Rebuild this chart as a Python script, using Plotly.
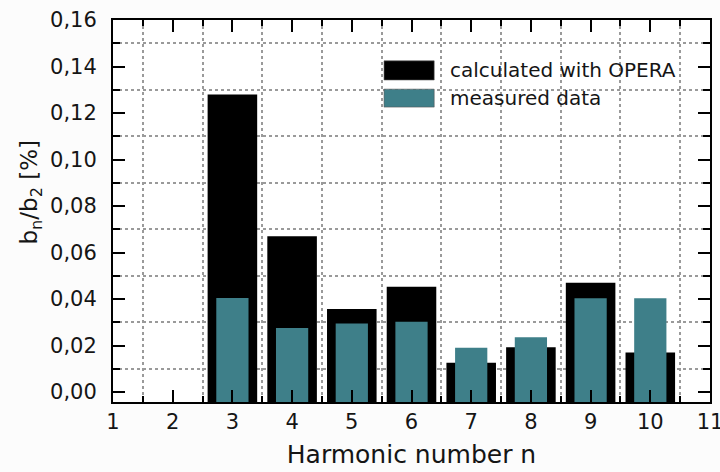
import plotly.graph_objects as go

# Harmonic orders and relative multipole content b_n/b_2 in percent
harmonics = [3, 4, 5, 6, 7, 8, 9, 10]
calculated_opera = [0.128, 0.067, 0.0357, 0.0453, 0.0126, 0.0192, 0.047, 0.017]
measured = [0.0404, 0.0275, 0.0295, 0.0302, 0.019, 0.0235, 0.0403, 0.0403]

series_names = ["calculated with OPERA", "measured data"]
series_colors = ["#000000", "#3e7f89"]

X_RANGE = [1, 11]
Y_RANGE = [-0.0043, 0.16]
FONT = "DejaVu Sans"
TEXT_COLOR = "#151515"

fig = go.Figure()

# Bars start at the lower axis edge, their tops sit at the data values
fig.add_trace(go.Bar(
    x=harmonics,
    y=[v - Y_RANGE[0] for v in calculated_opera],
    base=Y_RANGE[0],
    width=0.83,
    marker=dict(color=series_colors[0], line=dict(width=0)),
    name=series_names[0],
    showlegend=False,
))
fig.add_trace(go.Bar(
    x=harmonics,
    y=[v - Y_RANGE[0] for v in measured],
    base=Y_RANGE[0],
    width=0.54,
    marker=dict(color=series_colors[1], line=dict(width=0)),
    name=series_names[1],
    showlegend=False,
))

axis_common = dict(
    showline=True,
    linecolor="black",
    linewidth=2,
    mirror="allticks",
    ticks="inside",
    ticklen=12,
    tickwidth=2,
    tickcolor="black",
    showgrid=False,
    zeroline=False,
    ticklabeloverflow="allow",
    tickfont=dict(family=FONT, size=21, color=TEXT_COLOR),
)

fig.update_xaxes(
    range=X_RANGE,
    tick0=1,
    dtick=1,
    ticklabelstandoff=0,
    title=dict(text="Harmonic number n", font=dict(family=FONT, size=25, color=TEXT_COLOR), standoff=12),
    minor=dict(
        tick0=1.5, dtick=1, ticks="inside", ticklen=6, tickwidth=2, tickcolor="black",
        showgrid=True, gridcolor="#9a9a9a", griddash="dot", gridwidth=1.5,
    ),
    **axis_common,
)
fig.update_yaxes(
    range=Y_RANGE,
    tick0=0,
    dtick=0.02,
    tickformat=".2f",
    ticklabelstandoff=10,
    minor=dict(
        tick0=0.01, dtick=0.02, ticks="inside", ticklen=7, tickwidth=2, tickcolor="black",
        showgrid=True, gridcolor="#9a9a9a", griddash="dot", gridwidth=1.5,
    ),
    **axis_common,
)

# Vertical axis title
fig.add_annotation(
    xref="paper", yref="paper", x=-0.138, y=0.55,
    text="b<sub>n</sub>/b<sub>2</sub> [%]", textangle=-90, showarrow=False,
    xanchor="center", yanchor="middle",
    font=dict(family=FONT, size=23, color=TEXT_COLOR),
)

# Legend with wide colour swatches
legend_rows = [(0.893, 0.843), (0.819, 0.772)]
for (y_top, y_bot), name, color in zip(legend_rows, series_names, series_colors):
    fig.add_shape(
        type="rect", xref="paper", yref="paper",
        x0=0.454, x1=0.538, y0=y_bot, y1=y_top,
        fillcolor=color, line=dict(color="#555555", width=0.6),
    )
    fig.add_annotation(
        xref="paper", yref="paper", x=0.561, y=(y_top + y_bot) / 2,
        text=name, showarrow=False, xanchor="left", yanchor="middle",
        font=dict(family=FONT, size=20, color=TEXT_COLOR),
    )

fig.update_layout(
    width=720,
    height=472,
    margin=dict(l=113, r=10, t=20, b=70, autoexpand=False),
    barmode="overlay",
    separators=", ",
    paper_bgcolor="#fcfcfc",
    plot_bgcolor="white",
    font=dict(family=FONT),
)

fig.write_html("out.html")
